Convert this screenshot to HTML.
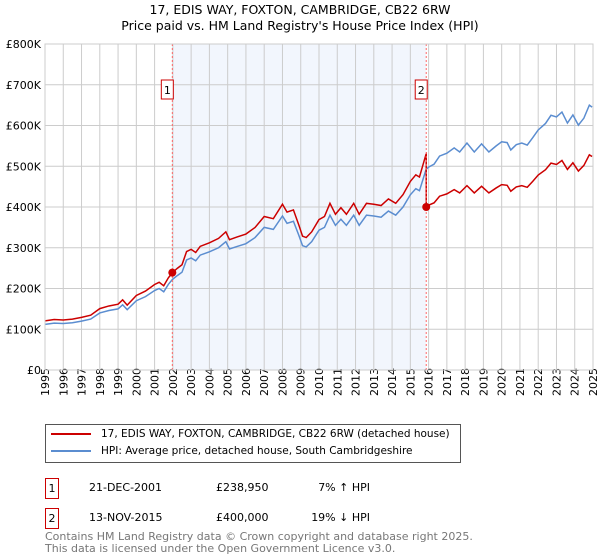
<!DOCTYPE html>
<html><head><meta charset="utf-8"><style>
body{margin:0;background:#fff;font-family:"DejaVu Sans","Liberation Sans",sans-serif;}
#wrap{position:relative;width:600px;height:560px;overflow:hidden;}
.t{position:absolute;font-size:11px;color:#000;white-space:nowrap;}
</style></head><body>
<div id="wrap">
<div class="t" style="left:0;width:600px;text-align:center;top:2px;font-size:12.5px;line-height:16px">17, EDIS WAY, FOXTON, CAMBRIDGE, CB22 6RW<br>Price paid vs. HM Land Registry's House Price Index (HPI)</div>
<svg id="chart" width="600" height="410" style="position:absolute;left:0;top:0"></svg>
<div style="position:absolute;left:45px;top:424px;width:414px;height:37px;border:1px solid #555;">
 <div style="position:absolute;left:5px;top:3px;font-size:10.5px;white-space:nowrap"><span style="display:inline-block;width:40px;height:2px;background:#cc0000;vertical-align:middle;margin-right:10px"></span>17, EDIS WAY, FOXTON, CAMBRIDGE, CB22 6RW (detached house)</div>
 <div style="position:absolute;left:5px;top:20px;font-size:10.5px;white-space:nowrap"><span style="display:inline-block;width:40px;height:2px;background:#5b8dd0;vertical-align:middle;margin-right:10px"></span>HPI: Average price, detached house, South Cambridgeshire</div>
</div>
<div style="position:absolute;left:45px;top:478px;width:12px;height:19px;border:1px solid #cc0000;font-size:11px;text-align:center;line-height:19px">1</div>
<div class="t" style="left:89px;top:481px">21-DEC-2001</div>
<div class="t" style="left:216px;top:481px">£238,950</div>
<div class="t" style="left:300px;width:70px;text-align:right;top:481px">7% ↑ HPI</div>
<div style="position:absolute;left:45px;top:508px;width:12px;height:19px;border:1px solid #cc0000;font-size:11px;text-align:center;line-height:19px">2</div>
<div class="t" style="left:89px;top:511px">13-NOV-2015</div>
<div class="t" style="left:216px;top:511px">£400,000</div>
<div class="t" style="left:300px;width:70px;text-align:right;top:511px">19% ↓ HPI</div>
<div class="t" style="left:45px;top:531px;color:#777;line-height:12px;font-size:11px">Contains HM Land Registry data © Crown copyright and database right 2025.<br>This data is licensed under the Open Government Licence v3.0.</div>
</div>
<script>
const hpiYears=[1995,1995.5,1996,1996.5,1997,1997.5,1998,1998.5,1999,1999.25,1999.5,2000,2000.5,2001,2001.25,2001.5,2001.75,2001.97,2002.25,2002.5,2002.75,2003,2003.25,2003.5,2004,2004.5,2004.9,2005.1,2005.5,2006,2006.5,2007,2007.5,2008,2008.25,2008.6,2008.9,2009.1,2009.3,2009.6,2010,2010.3,2010.6,2010.9,2011.2,2011.5,2011.9,2012.2,2012.6,2013,2013.4,2013.8,2014.2,2014.6,2015,2015.3,2015.5,2015.86,2016,2016.3,2016.6,2017,2017.4,2017.7,2018.1,2018.5,2018.9,2019.3,2019.7,2020,2020.3,2020.5,2020.8,2021.1,2021.4,2021.7,2022,2022.4,2022.7,2023,2023.3,2023.6,2023.9,2024.2,2024.5,2024.8,2024.95];
const hpiValues=[112,115,114,116,120,125,140,146,150,160,148,170,180,195,200,192,210,222,232,240,270,275,268,282,290,300,315,297,303,310,325,350,345,378,360,365,330,305,302,315,343,350,380,355,370,355,380,355,380,378,375,390,380,400,430,445,440,492,498,505,525,532,545,535,557,535,555,535,550,560,558,540,553,557,552,570,589,605,625,621,633,606,626,601,618,650,645];
const saleYears=[2001.97,2015.87];
const salePrices=[238.95,400];
const saleLabels=["1","2"];
const yTicks=[0,100,200,300,400,500,600,700,800];
const yTickLabels=["£0","£100K","£200K","£300K","£400K","£500K","£600K","£700K","£800K"];
const xTicks=[1995,1996,1997,1998,1999,2000,2001,2002,2003,2004,2005,2006,2007,2008,2009,2010,2011,2012,2013,2014,2015,2016,2017,2018,2019,2020,2021,2022,2023,2024,2025];

const L=45,R=593,T=44,B=370;
const xs=y=>L+(y-1995)/30*(R-L);
const ys=v=>B-v/800*(B-T);
const svg=document.getElementById('chart');
const NS='http://www.w3.org/2000/svg';
function mk(tag,attrs,parent){const e=document.createElementNS(NS,tag);for(const k in attrs)e.setAttribute(k,attrs[k]);(parent||svg).appendChild(e);return e;}
function hpiAt(y){for(let i=1;i<hpiYears.length;i++){if(y<=hpiYears[i]){const t=(y-hpiYears[i-1])/(hpiYears[i]-hpiYears[i-1]);return hpiValues[i-1]+t*(hpiValues[i]-hpiValues[i-1]);}}return hpiValues[hpiValues.length-1];}

const shade=mk('rect',{x:xs(saleYears[0]),y:T,width:xs(saleYears[1])-xs(saleYears[0]),height:B-T,fill:'#eef3fc',opacity:0.75});


xTicks.forEach(y=>{
 const g=mk('line',{x1:xs(y),x2:xs(y),y1:T,y2:B,stroke:'#cccccc','stroke-width':1});
 
 
 const t=mk('text',{x:0,y:0,transform:`translate(${xs(y)+4},${B+26}) rotate(-90)`,'font-size':11,'font-family':'DejaVu Sans, Liberation Sans, sans-serif'});
 t.textContent=y;
 
 
});
yTicks.forEach((v,i)=>{
 const g=mk('line',{x1:L,x2:R,y1:ys(v),y2:ys(v),stroke:'#cccccc','stroke-width':1});
 
 
 const t=mk('text',{x:L-4,y:ys(v)+4,'text-anchor':'end','font-size':11,'font-family':'DejaVu Sans, Liberation Sans, sans-serif'});
 t.textContent=yTickLabels[i];
 
 
});
const hp=mk('polyline',{points:hpiYears.map((y,i)=>xs(y)+','+ys(hpiValues[i])).join(' '),fill:'none',stroke:'#5b8dd0','stroke-width':1.5});


const r1=salePrices[0]/hpiAt(saleYears[0]), r2=salePrices[1]/hpiAt(saleYears[1]);
let pts=[];
hpiYears.forEach((y,i)=>{ if(y<saleYears[1]) pts.push(xs(y)+','+ys(hpiValues[i]*r1)); });
pts.push(xs(saleYears[1])+','+ys(hpiAt(saleYears[1])*r1));
pts.push(xs(saleYears[1])+','+ys(salePrices[1]));
hpiYears.forEach((y,i)=>{ if(y>saleYears[1]) pts.push(xs(y)+','+ys(hpiValues[i]*r2)); });
const pl=mk('polyline',{points:pts.join(' '),fill:'none',stroke:'#cc0000','stroke-width':1.5});


saleYears.forEach((y,i)=>{
 const v=mk('line',{x1:xs(y),x2:xs(y),y1:T,y2:B,stroke:'#ff6666','stroke-width':1,'stroke-dasharray':'2,2'});
 
 
 const c=mk('circle',{cx:xs(y),cy:ys(salePrices[i]),r:4,fill:'#cc0000'});
 
 
 const bx=mk('rect',{x:xs(y)-11,y:80,width:12,height:19,fill:'#fff',stroke:'#cc0000'});
 
 
 const t=mk('text',{x:xs(y)-5,y:94,'text-anchor':'middle','font-size':11,'font-family':'DejaVu Sans, Liberation Sans, sans-serif'});
 t.textContent=saleLabels[i];
 
 
});
const fr=mk('rect',{x:L,y:T,width:R-L,height:B-T,fill:'none',stroke:'#cccccc'});


</script>
</body></html>
